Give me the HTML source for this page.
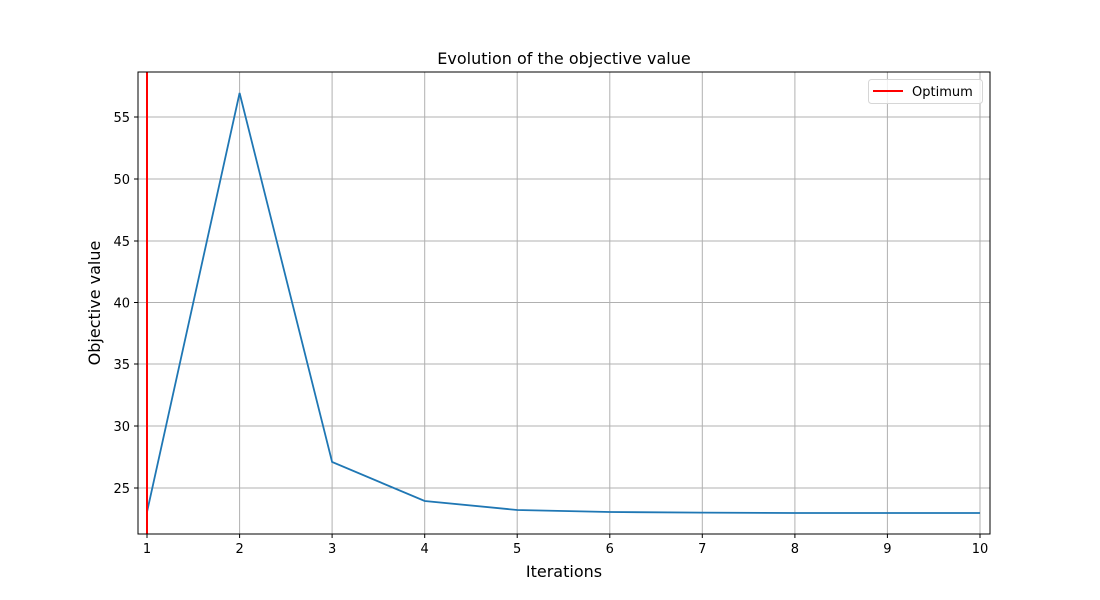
<!DOCTYPE html>
<html><head><style>body{margin:0;background:#fff}svg{display:block}text{font-family:"DejaVu Sans","Liberation Sans",sans-serif}</style></head><body>
<svg width="1100" height="600" viewBox="0 0 1100 600" xmlns="http://www.w3.org/2000/svg">
<rect width="1100" height="600" fill="#fff"/>
<g stroke="#b0b0b0" stroke-width="1">
<line x1="147" y1="72" x2="147" y2="534"/><line x1="239.6" y1="72" x2="239.6" y2="534"/><line x1="332.1" y1="72" x2="332.1" y2="534"/><line x1="424.7" y1="72" x2="424.7" y2="534"/><line x1="517.2" y1="72" x2="517.2" y2="534"/><line x1="609.8" y1="72" x2="609.8" y2="534"/><line x1="702.3" y1="72" x2="702.3" y2="534"/><line x1="794.9" y1="72" x2="794.9" y2="534"/><line x1="887.4" y1="72" x2="887.4" y2="534"/><line x1="980" y1="72" x2="980" y2="534"/>
<line x1="138" y1="488" x2="990" y2="488"/><line x1="138" y1="426" x2="990" y2="426"/><line x1="138" y1="364" x2="990" y2="364"/><line x1="138" y1="302.5" x2="990" y2="302.5"/><line x1="138" y1="241" x2="990" y2="241"/><line x1="138" y1="179" x2="990" y2="179"/><line x1="138" y1="117" x2="990" y2="117"/>
</g>
<polyline fill="none" stroke="#1f77b4" stroke-width="1.8" points="147,512 239.6,93 332.1,462 424.7,501 517.2,510 609.8,512 702.3,512.6 794.9,513 887.4,513 980,513"/>
<line x1="147" y1="72" x2="147" y2="534" stroke="#ff0000" stroke-width="2"/>
<rect x="138" y="72" width="852" height="462" fill="none" stroke="#000" stroke-width="1"/>
<g stroke="#000"><line x1="147" y1="534" x2="147" y2="538"/><line x1="239.6" y1="534" x2="239.6" y2="538"/><line x1="332.1" y1="534" x2="332.1" y2="538"/><line x1="424.7" y1="534" x2="424.7" y2="538"/><line x1="517.2" y1="534" x2="517.2" y2="538"/><line x1="609.8" y1="534" x2="609.8" y2="538"/><line x1="702.3" y1="534" x2="702.3" y2="538"/><line x1="794.9" y1="534" x2="794.9" y2="538"/><line x1="887.4" y1="534" x2="887.4" y2="538"/><line x1="980" y1="534" x2="980" y2="538"/>
<line x1="134" y1="488" x2="138" y2="488"/><line x1="134" y1="426" x2="138" y2="426"/><line x1="134" y1="364" x2="138" y2="364"/><line x1="134" y1="302.5" x2="138" y2="302.5"/><line x1="134" y1="241" x2="138" y2="241"/><line x1="134" y1="179" x2="138" y2="179"/><line x1="134" y1="117" x2="138" y2="117"/></g>
<g font-size="13" text-anchor="middle" fill="#000"><text x="147" y="553">1</text><text x="239.6" y="553">2</text><text x="332.1" y="553">3</text><text x="424.7" y="553">4</text><text x="517.2" y="553">5</text><text x="609.8" y="553">6</text><text x="702.3" y="553">7</text><text x="794.9" y="553">8</text><text x="887.4" y="553">9</text><text x="980" y="553">10</text></g>
<g font-size="13" text-anchor="end" fill="#000"><text x="130" y="493">25</text><text x="130" y="431">30</text><text x="130" y="369">35</text><text x="130" y="307.5">40</text><text x="130" y="246">45</text><text x="130" y="184">50</text><text x="130" y="122">55</text></g>
<text x="564" y="577" font-size="16" text-anchor="middle">Iterations</text>
<text transform="translate(100,303) rotate(-90)" font-size="16" text-anchor="middle">Objective value</text>
<text x="564" y="64" font-size="16" text-anchor="middle">Evolution of the objective value</text>
<rect x="868.5" y="79.5" width="114" height="24" rx="3" fill="#fff" fill-opacity="0.8" stroke="#d6d6d6"/>
<line x1="873" y1="91" x2="903" y2="91" stroke="#ff0000" stroke-width="2"/>
<text x="912" y="96" font-size="13">Optimum</text>
</svg>
</body></html>
